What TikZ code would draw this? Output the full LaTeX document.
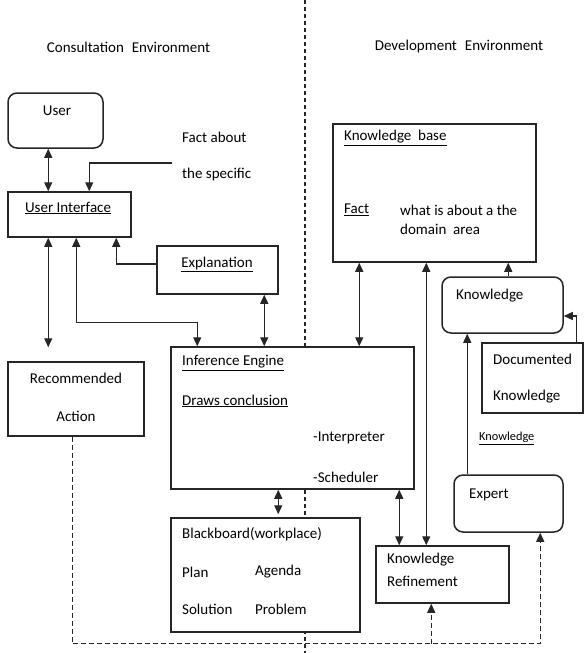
\documentclass[tikz,border=0pt]{standalone}
\usepackage{fontspec}
\setmainfont{Carlito}
\usetikzlibrary{arrows.meta}
\begin{document}
\begin{tikzpicture}[x=1pt,y=-1pt,
  font=\fontsize{15}{18}\selectfont,
  box/.style={draw=black!85, line width=1.5pt, inner sep=0pt, fill=white},
  rbox/.style={box, rounded corners=9pt},
  txt/.style={inner sep=0pt, anchor=west},
  ctxt/.style={inner sep=0pt, anchor=center},
  tip/.style={Triangle[length=9pt,width=8pt]},
  conn/.style={line width=1.3pt, draw=black!85, -{Triangle[length=9pt,width=8pt]}},
  biconn/.style={line width=1.3pt, draw=black!85, {Triangle[length=9pt,width=8pt]}-{Triangle[length=9pt,width=8pt]}},
  dashline/.style={line width=1.2pt, draw=black!85, dash pattern=on 5pt off 3pt},
]
\useasboundingbox (0,0) rectangle (584,653);
\fill[white] (0,0) rectangle (584,653);

% divider
\coordinate (divtop) at (305,0);
\coordinate (divbot) at (305,653);
\draw[dashline, line width=1.1pt, dash pattern=on 4pt off 3pt] (divtop) -- (divbot);

% titles
\node[ctxt] (tcons) at (128.5,47) {Consultation\hspace{8pt}Environment};
\node[ctxt] (tdev) at (459,47) {Development\hspace{8pt}Environment};

% boxes
\node[rbox, minimum width=95, minimum height=55] (user) at (55.5,120.5) {};
\node[box, minimum width=123, minimum height=45] (ui) at (69.5,214.5) {};
\node[box, minimum width=121, minimum height=48] (expl) at (217.5,270) {};
\node[box, minimum width=136, minimum height=74] (rec) at (76,399) {};
\node[box, minimum width=243, minimum height=142] (inf) at (292.5,418) {};
\node[box, minimum width=189, minimum height=114] (bb) at (265.5,575) {};
\node[box, minimum width=203, minimum height=138] (kb) at (434.5,193) {};
\node[rbox, minimum width=121, minimum height=56] (kn) at (502.5,305) {};
\node[box, minimum width=101, minimum height=70] (doc) at (532.5,378) {};
\node[rbox, minimum width=109, minimum height=57] (exp) at (508.5,503.5) {};
\node[box, minimum width=133, minimum height=57] (kr) at (442.5,574.5) {};

% texts
\node[ctxt] (tuser) at (57,111) {User};
\node[txt] (tfact1) at (182,137) {Fact about};
\node[txt] (tfact2) at (182,174) {the specific};
\node[ctxt] (tui) at (68,208) {\underline{User Interface}};
\node[ctxt] (texpl) at (217,264) {\underline{Explanation}};
\node[ctxt] (trec1) at (76,378) {Recommended};
\node[ctxt] (trec2) at (76,416) {Action};
\node[txt] (tinf1) at (182,363) {\underline{Inference Engine}};
\node[txt] (tinf2) at (182,401) {\underline{Draws conclusion}};
\node[txt] (tinf3) at (313,438) {-Interpreter};
\node[txt] (tinf4) at (313,477) {-Scheduler};
\node[txt] (tbb1) at (182,534) {Blackboard(workplace)};
\node[txt] (tbb2) at (182,572) {Plan};
\node[txt] (tbb3) at (255,572) {Agenda};
\node[txt] (tbb4) at (182,609) {Solution};
\node[txt] (tbb5) at (255,609) {Problem};
\node[txt] (tkb1) at (344,138) {\underline{Knowledge\ \ base}};
\node[txt] (tkb2) at (344,210) {\underline{Fact}};
\node[txt] (tkb3) at (400,210) {what is about a the};
\node[txt] (tkb4) at (400,229) {domain\ \ area};
\node[txt] (tkn) at (456,296) {Knowledge};
\node[txt] (tdoc1) at (493,359) {Documented};
\node[txt] (tdoc2) at (493,397) {Knowledge};
\node[txt, font=\fontsize{12.3}{14}\selectfont] (tklab) at (479,438) {\underline{Knowledge}};
\node[txt] (texp) at (469,495) {Expert};
\node[txt] (tkr1) at (387,560) {Knowledge};
\node[txt] (tkr2) at (387,581) {Refinement};

% connectors
\draw[biconn] ([xshift=41pt]user.south west) -- ([xshift=41pt]ui.north west);
\coordinate (factend) at (172,163);
\draw[conn] (factend) -| ([xshift=82pt]ui.north west);
\draw[conn] ([yshift=6pt]expl.west) -| ([xshift=109pt]ui.south west);
\draw[biconn] ([xshift=41pt]ui.south west) -- ([xshift=41pt,yshift=14pt]rec.north west);
\draw[biconn] ([xshift=69pt]ui.south west) -- ++(0,85) -| ([xshift=27pt]inf.north west);
\draw[biconn] ([xshift=108pt]expl.south west) -- ([xshift=94pt]inf.north west);
\draw[biconn] ([xshift=27pt]kb.south west) -- ([xshift=189pt]inf.north west);
\draw[biconn] ([xshift=108pt]inf.south west) -- ([xshift=108pt,yshift=3pt]bb.north west);
\draw[biconn] ([xshift=229pt]inf.south west) -- ([xshift=24pt]kr.north west);
\draw[biconn] ([xshift=94pt]kb.south west) -- ([xshift=51pt]kr.north west);
\draw[conn] ([xshift=67pt]kn.north west) -- ([xshift=176pt]kb.south west);
\draw[conn] ([xshift=95pt]doc.north west) |- ([yshift=-11pt]kn.east);
\draw[conn] ([xshift=14pt]exp.north west) -- ([xshift=26pt]kn.south west);

% dashed feedback
\draw[dashline, -{Triangle[length=9pt,width=8pt]}] ([xshift=65pt]rec.south west) -- ++(0,207) coordinate (dashL) -| ([xshift=87pt]exp.south west);
\coordinate (krb) at ([xshift=56pt]kr.south west);
\draw[dashline, -{Triangle[length=9pt,width=8pt]}] (krb |- dashL) -- (krb);
\end{tikzpicture}
\end{document}
